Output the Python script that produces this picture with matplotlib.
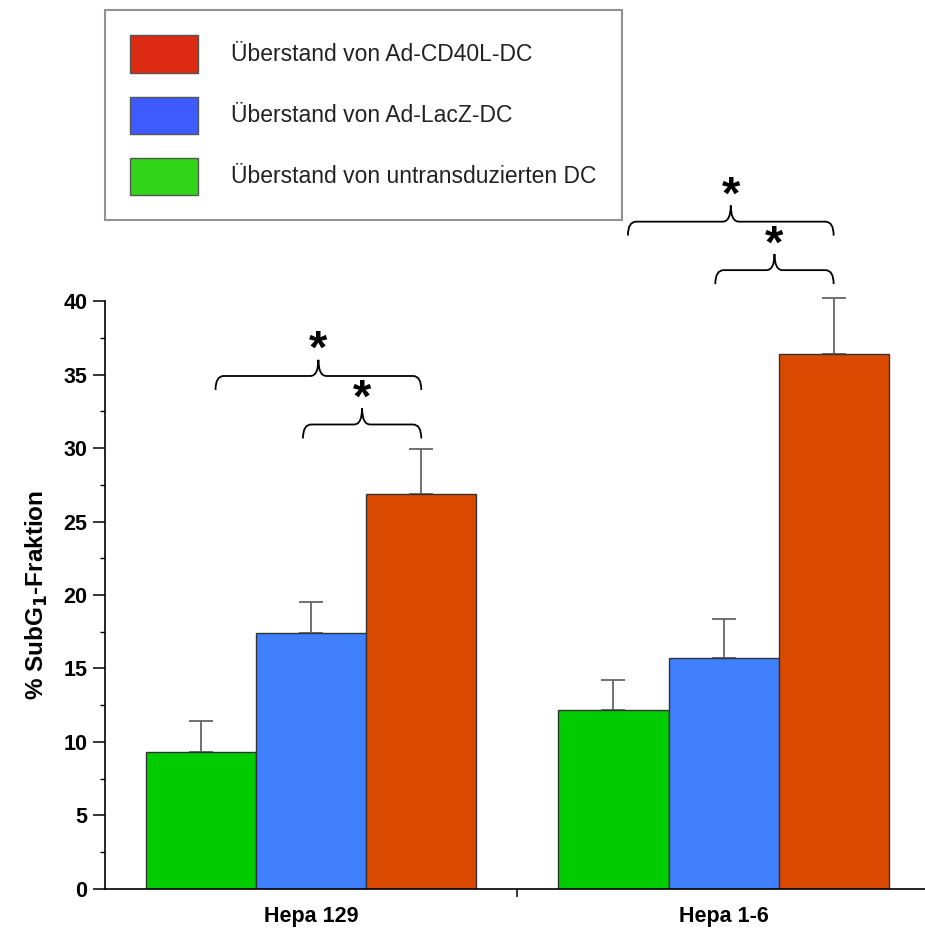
import numpy as np
import matplotlib.pyplot as plt
from matplotlib.patches import Patch, PathPatch
from matplotlib.path import Path
from matplotlib.ticker import MultipleLocator

plt.rcParams["font.family"] = ["Liberation Sans", "DejaVu Sans"]

groups = ["Hepa 129", "Hepa 1-6"]
series = ["Überstand von untransduzierten DC", "Überstand von Ad-LacZ-DC", "Überstand von Ad-CD40L-DC"]
values = {
    "untransduziert": [9.3, 12.2],
    "LacZ": [17.4, 15.7],
    "CD40L": [26.9, 36.4],
}
errors = {
    "untransduziert": [2.1, 2.0],
    "LacZ": [2.1, 2.7],
    "CD40L": [3.0, 3.8],
}
bar_colors = ["#00cc00", "#4080ff", "#d94a00"]
legend_colors = ["#dd2a12", "#3e5bff", "#32d41a"]

# significance brackets: (group, left bar, right bar, height of the bar line)
brackets = [
    (0, 0, 2, 34.9),
    (0, 1, 2, 31.6),
    (1, 0, 2, 45.4),
    (1, 1, 2, 42.1),
]

fig = plt.figure(figsize=(9.25, 9.34), dpi=100)
ax = fig.add_axes([0.1135, 0.0482, 0.8865, 0.6295])

width = 0.267
x = np.arange(len(groups))
offsets = [-width, 0, width]
for key, off, col in zip(values, offsets, bar_colors):
    ax.bar(x + off, values[key], width=width, color=col, edgecolor="#333333",
           linewidth=1.0, zorder=2)
    eb = ax.errorbar(x + off, values[key], yerr=[np.zeros(len(groups)), errors[key]],
                     fmt="none", ecolor="#666666", elinewidth=1.3, capsize=8.3,
                     capthick=1.3, zorder=1)
    for art in eb.lines[1] + eb.lines[2]:
        art.set_clip_on(False)


def brace(ax, x1, x2, y, drop=0.95, tip=1.1, dx=0.02):
    xm = (x1 + x2) / 2
    verts = [
        (x1, y - drop), (x1, y), (x1 + dx, y),
        (xm - dx, y), (xm, y), (xm, y + tip),
        (xm, y), (xm + dx, y),
        (x2 - dx, y), (x2, y), (x2, y - drop),
    ]
    codes = [Path.MOVETO, Path.CURVE3, Path.CURVE3,
             Path.LINETO, Path.CURVE3, Path.CURVE3,
             Path.CURVE3, Path.CURVE3,
             Path.LINETO, Path.CURVE3, Path.CURVE3]
    ax.add_patch(PathPatch(Path(verts, codes), fill=False, edgecolor="black",
                           linewidth=1.3, clip_on=False))
    ax.text(xm, y + tip - 0.9, "*", ha="center", va="bottom", fontsize=34,
            fontweight="bold", clip_on=False)


for g, i, j, h in brackets:
    left = x[g] + offsets[i] + (0.035 if i == 0 else -0.02)
    right = x[g] + offsets[j]
    brace(ax, left, right, h)

ax.set_xlim(-0.5, 1.4885)
ax.set_ylim(0, 40)
for side in ("top", "right"):
    ax.spines[side].set_visible(False)
ax.spines["left"].set_linewidth(1.2)
ax.spines["bottom"].set_linewidth(1.2)

ax.yaxis.set_major_locator(MultipleLocator(5))
ax.yaxis.set_minor_locator(MultipleLocator(2.5))
ax.tick_params(axis="y", which="major", length=8.6, width=1.1, pad=4, labelsize=15.5)
ax.tick_params(axis="y", which="minor", length=3.6, width=1.0)
for lab in ax.get_yticklabels():
    lab.set_fontweight("bold")

ax.set_xticks([0.5])
ax.set_xticklabels([""])
ax.set_xticks(x, minor=True)
ax.set_xticklabels(groups, minor=True, fontsize=15.5, fontweight="bold")
ax.tick_params(axis="x", which="major", length=6, width=1.1)
ax.tick_params(axis="x", which="minor", length=0, pad=12)

ax.set_ylabel("% SubG$_\\mathbf{1}$-Fraktion", fontsize=17.5, fontweight="bold", labelpad=10)

handles = [Patch(facecolor=c, edgecolor="#555555", linewidth=1.0) for c in legend_colors]
leg = fig.legend(handles, series[::-1], loc="upper left",
                 bbox_to_anchor=(0.1135, 0.989), fontsize=16.5, frameon=True,
                 fancybox=False, edgecolor="#777777", handlelength=2.97,
                 handleheight=2.11, handletextpad=1.44, labelspacing=1.05,
                 borderpad=1.1, borderaxespad=0)
leg.get_frame().set_linewidth(1.5)
for t in leg.get_texts():
    t.set_color("#222222")

fig.savefig("out.png", dpi=100)
